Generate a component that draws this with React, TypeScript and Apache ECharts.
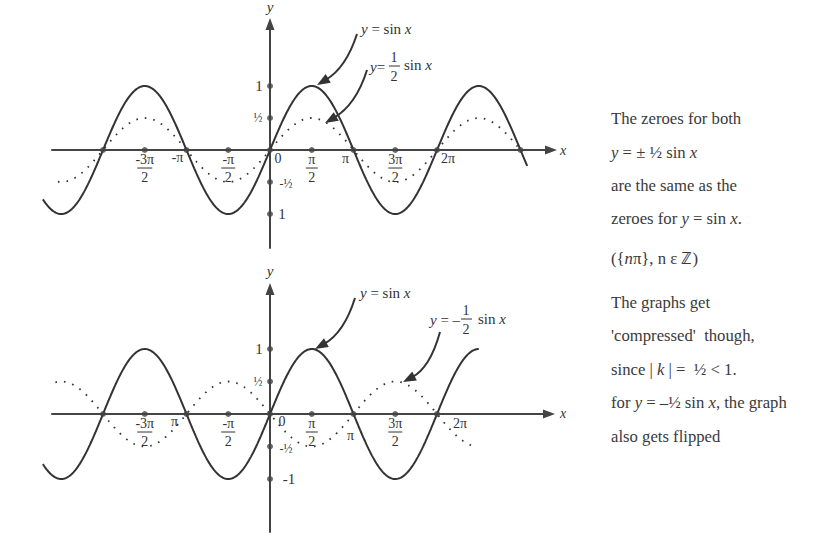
import React, { useEffect, useRef } from "react";
import * as echarts from "echarts";

// ---- data ----
// curves: y = amplitude * sin(x), x measured in multiples of π
const topAmplitudes = [1, 0.5];
const topDomains = [[-2.72, 3.08], [-2.54, 3.0]];
const bottomAmplitudes = [1, -0.5];
const bottomDomains = [[-2.72, 2.5], [-2.57, 2.46]];

const topTickX = [-2, -1.5, -1, -0.5, 0, 0.5, 1, 1.5, 2, 3];
const bottomTickX = [-2, -1.5, -1, -0.5, 0, 0.5, 1, 1.5, 2];
const tickY = [1, 0.5, -0.5, -1];

// tick labels [x value, numerator, denominator]
const topXLabels: [number, string, string][] = [
  [-1.5, "-3π", "2"], [-1, "-π", ""], [-0.5, "-π", "2"], [0, "0", ""],
  [0.5, "π", "2"], [1, "π", ""], [1.5, "3π", "2"], [2, "2π", ""],
];
const bottomXLabels: [number, string, string][] = [
  [-1.5, "-3π", "2"], [-1, "π", ""], [-0.5, "-π", "2"], [0, "0", ""],
  [0.5, "π", "2"], [1, "π", ""], [1.5, "3π", "2"], [2, "2π", ""],
];
const topYLabels: [number, string][] = [[1, "1"], [0.5, "½"], [-0.5, "-½"], [-1, "1"]];
const bottomYLabels: [number, string][] = [[1, "1"], [0.5, "½"], [-0.5, "-½"], [-1, "-1"]];

const noteLines = [
  "The zeroes for both",
  "{i|y} = ± ½ sin {i|x}",
  "are the same as the",
  "zeroes for {i|y} = sin {i|x}.",
  "({{i|n}π}, n ε ℤ)",
  "The graphs get",
  "'compressed'  though,",
  "since | {i|k} | =  ½ < 1.",
  "for {i|y} = –½ sin {i|x}, the graph",
  "also gets flipped",
];

// ---- layout ----
const FONT = "Liberation Serif, Times New Roman, serif";
const INK = "#333";
const AXIS = "#444";
const noteY = [118, 152, 185, 218, 258, 302, 335, 369, 402, 436];
const topPlainOffsets: Record<number, [number, number]> = { 1: [-9, 7], 3: [8, 8], 5: [-8, 8], 7: [11, 8] };
const bottomPlainOffsets: Record<number, [number, number]> = { 1: [-12, 7], 3: [12, 7], 5: [-3, 21], 7: [23, 9] };
const topYOffsets: [number, number][] = [[-11, 0], [-12, 0], [16, 2], [12, 0]];
const bottomYOffsets: [number, number][] = [[-11, 0], [-12, 0], [16, 2], [19, 0]];

function sample(amp: number, dom: number[]) {
  const pts: number[][] = [];
  const n = 400;
  for (let k = 0; k <= n; k++) {
    const x = dom[0] + ((dom[1] - dom[0]) * k) / n;
    pts.push([x, amp * Math.sin(Math.PI * x)]);
  }
  return pts;
}

function text(x: number, y: number, t: string, size = 14, align = "center", fill = INK) {
  return {
    type: "text",
    x,
    y,
    silent: true,
    style: {
      text: t,
      fill,
      fontSize: size,
      fontFamily: FONT,
      align,
      verticalAlign: "middle",
      rich: {
        i: { fontStyle: "italic", fontSize: size, fontFamily: FONT, fill },
      },
    },
  };
}

function arrow(p0: number[], cp: number[], p2: number[]) {
  const dx = p2[0] - cp[0];
  const dy = p2[1] - cp[1];
  const len = Math.hypot(dx, dy);
  const ux = dx / len, uy = dy / len;
  const L = 13, W = 5;
  const bx = p2[0] - ux * L, by = p2[1] - uy * L;
  return [
    {
      type: "bezierCurve",
      silent: true,
      shape: { x1: p0[0], y1: p0[1], x2: bx + ux * 3, y2: by + uy * 3, cpx1: cp[0], cpy1: cp[1] },
      style: { stroke: INK, lineWidth: 2, fill: null },
    },
    {
      type: "polygon",
      silent: true,
      shape: {
        points: [
          [p2[0], p2[1]],
          [bx - uy * W, by + ux * W],
          [bx + uy * W, by - ux * W],
        ],
      },
      style: { fill: INK },
    },
  ];
}

function axisCommon(grid: number, min: number, max: number, visible = true) {
  return {
    type: "value",
    gridIndex: grid,
    min,
    max,
    show: visible,
    axisLine: {
      show: visible,
      onZero: true,
      symbol: ["none", "triangle"],
      symbolSize: [9, 12],
      lineStyle: { color: AXIS, width: 2 },
    },
    axisTick: { show: false },
    axisLabel: { show: false },
    splitLine: { show: false },
  };
}

export default function App() {
  const ref = useRef<HTMLDivElement>(null);
  useEffect(() => {
    if (!ref.current) return;
    const chart = echarts.init(ref.current, null, { renderer: "svg" });
    const solid = { color: INK, width: 2 };
    const dotted = { color: INK, width: 1.8, type: [1.6, 7] };
    const lineSeries = (xi: number, amp: number, dom: number[], style: any) => ({
      type: "line",
      xAxisIndex: xi,
      yAxisIndex: xi,
      data: sample(amp, dom),
      showSymbol: false,
      smooth: false,
      clip: false,
      lineStyle: style,
      silent: true,
      z: 3,
    });
    const dots = (xi: number, xs: number[]) => ({
      type: "scatter",
      xAxisIndex: xi,
      yAxisIndex: xi,
      symbolSize: 6,
      itemStyle: { color: AXIS },
      data: [...xs.map((x) => [x, 0]), ...tickY.map((y) => [0, y])],
      silent: true,
      clip: false,
      z: 5,
    });
    chart.setOption({
      animation: false,
      grid: [
        { left: 52, top: 24, width: 499, height: 224 },
        { left: 52, top: 289, width: 497, height: 243 },
        { left: 40, top: 24, width: 511, height: 224 },
        { left: 40, top: 289, width: 509, height: 243 },
      ],
      xAxis: [
        axisCommon(0, -2.611, 3.365),
        axisCommon(1, -2.611, 3.341),
        axisCommon(2, -2.7545, 3.365, false),
        axisCommon(3, -2.7545, 3.341, false),
      ],
      yAxis: [
        axisCommon(0, -1.531, 1.969),
        axisCommon(1, -1.815, 1.923),
        axisCommon(2, -1.531, 1.969, false),
        axisCommon(3, -1.815, 1.923, false),
      ],
      series: [
        lineSeries(2, topAmplitudes[0], topDomains[0], solid),
        lineSeries(2, topAmplitudes[1], topDomains[1], dotted),
        lineSeries(3, bottomAmplitudes[0], bottomDomains[0], solid),
        lineSeries(3, bottomAmplitudes[1], bottomDomains[1], dotted),
        dots(0, topTickX),
        dots(1, bottomTickX),
      ],
    });

    const g: any[] = [];
    const px = (gi: number, x: number, y: number) =>
      chart.convertToPixel({ xAxisIndex: gi, yAxisIndex: gi }, [x, y]) as number[];

    const addXLabels = (gi: number, labels: [number, string, string][], offs: Record<number, [number, number]>) => {
      labels.forEach(([x, num, den], i) => {
        const p = px(gi, x, 0);
        if (den) {
          const w = num.length > 2 ? 15 : num.length > 1 ? 14 : 12;
          g.push(text(p[0], p[1] + 9, num, 14));
          g.push({
            type: "line",
            silent: true,
            shape: { x1: p[0] - w / 2, y1: p[1] + 18, x2: p[0] + w / 2, y2: p[1] + 18 },
            style: { stroke: INK, lineWidth: 1 },
          });
          g.push(text(p[0], p[1] + 27, den, 14));
        } else {
          const o = offs[i] || [0, 8];
          g.push(text(p[0] + o[0], p[1] + o[1], num, 14));
        }
      });
    };
    const addYLabels = (gi: number, labels: [number, string][], offs: [number, number][]) => {
      labels.forEach(([y, t], i) => {
        const p = px(gi, 0, y);
        const small = t.includes("½");
        g.push(text(p[0] + offs[i][0], p[1] + offs[i][1], t, small ? 12 : 15));
      });
    };
    addXLabels(0, topXLabels, topPlainOffsets);
    addXLabels(1, bottomXLabels, bottomPlainOffsets);
    addYLabels(0, topYLabels, topYOffsets);
    addYLabels(1, bottomYLabels, bottomYOffsets);

    // axis names
    g.push(text(270, 7, "{i|y}", 15));
    g.push(text(563, 150, "{i|x}", 14));
    g.push(text(270, 271, "{i|y}", 15));
    g.push(text(563, 413, "{i|x}", 14));

    // annotations top
    g.push(text(361, 29, "{i|y} = sin {i|x}", 15, "left"));
    g.push(text(370, 67, "{i|y}=", 15, "left"));
    g.push(text(394, 57, "1", 14));
    g.push({ type: "line", silent: true, shape: { x1: 389, y1: 66, x2: 400, y2: 66 }, style: { stroke: INK, lineWidth: 1 } });
    g.push(text(394, 76, "2", 14));
    g.push(text(404, 65, "sin {i|x}", 15, "left"));
    g.push(...arrow([357, 34], [346, 68], [317, 85]));
    g.push(...arrow([367, 70], [356, 105], [325, 123]));

    // annotations bottom
    g.push(text(360, 293, "{i|y} = sin {i|x}", 15, "left"));
    g.push(text(430, 320, "{i|y} = –", 15, "left"));
    g.push(text(466, 310, "1", 14));
    g.push({ type: "line", silent: true, shape: { x1: 461, y1: 319, x2: 472, y2: 319 }, style: { stroke: INK, lineWidth: 1 } });
    g.push(text(466, 329, "2", 14));
    g.push(text(478, 319, "sin {i|x}", 15, "left"));
    g.push(...arrow([355, 298], [344, 333], [315, 349]));
    g.push(...arrow([440, 332], [430, 368], [403, 382]));

    // notes
    noteLines.forEach((t, i) => g.push(text(611, noteY[i], t, 16.7, "left", "#3a3a3a")));

    chart.setOption({ graphic: { elements: g } });
    return () => chart.dispose();
  }, []);
  return <div ref={ref} style={{ position: "absolute", left: 0, top: 0, width: 819, height: 544, background: "#fff" }} />;
}
